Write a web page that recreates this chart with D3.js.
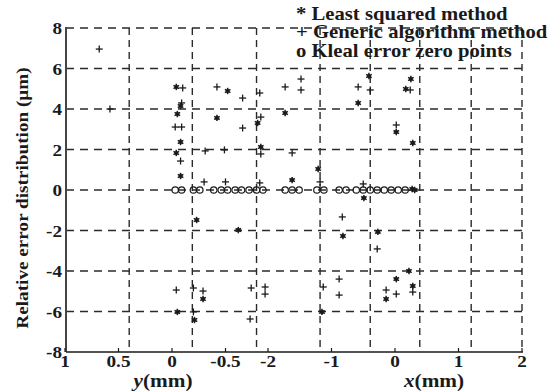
<!DOCTYPE html>
<html><head><meta charset="utf-8">
<script src="https://cdn.jsdelivr.net/npm/d3@7"></script>
<style>html,body{margin:0;padding:0;background:#fff;} svg{display:block;}</style>
</head><body><svg id="c" width="558" height="392"></svg>
<script>
// ---- data ----
const yTicks = [8, 6, 4, 2, 0, -2, -4, -6, -8];
const leftTicks = [1, 0.5, 0, -0.5];          // y(mm) part of the horizontal axis
const leftTickLabels = ["1", "0.5", "0", "-0.5"];
const rightTicks = [-2, -1, 0, 1, 2];          // x(mm) part of the horizontal axis
const rightTickLabels = ["-2", "-1", "0", "1", "2"];
const hGrid = [6, 4, 2, 0, -2, -4, -6];
const leftGrid = [0.40, -0.19, -0.79];
const rightGrid = [-1.18, -0.39, 0.39, 1.2];
const legendItems = ["* Least squared method", "+ Generic algorithm method", "o Kleal error zero points"];

// Least squared method: [position, error]
const lsLeft = [[-0.04,5.09],[-0.08,4.15],[-0.05,3.75],[-0.08,2.37],[-0.04,1.83],[-0.08,0.69],[-0.52,4.89],[-0.42,3.56],[-0.80,3.31],[-0.83,2.12],[-0.23,-1.48],[-0.62,-1.98],[-0.29,-5.38],[-0.21,-6.42],[-0.05,-6.02]];
const lsRight = [[-1.73,3.80],[-1.62,0.49],[-1.21,1.04],[-0.49,-0.40],[-0.41,5.63],[-0.58,4.30],[0.25,5.48],[0.17,4.99],[0.02,2.86],[0.28,2.32],[0.27,0.05],[0.31,0.0],[-0.82,-2.27],[-0.27,-2.07],[-1.15,-6.02],[-0.14,-5.38],[0.02,-4.40],[0.22,-4.00],[0.28,-4.74]];
// Generic algorithm method
const gaLeft = [[0.68,6.96],[0.58,4.00],[-0.10,5.04],[-0.09,4.30],[-0.03,3.11],[-0.09,3.11],[-0.08,1.43],[-0.30,0.40],[-0.50,0.40],[-0.82,0.35],[-0.42,5.09],[-0.66,4.54],[-0.82,4.79],[-0.83,3.60],[-0.66,3.06],[-0.31,1.93],[-0.49,1.98],[-0.83,1.78],[-0.20,-4.84],[-0.29,-4.99],[-0.20,-6.02],[-0.74,-4.84],[-0.87,-4.79],[-0.87,-5.14],[-0.73,-6.37],[-0.04,-4.94]];
const gaRight = [[-1.73,5.09],[-1.48,5.48],[-1.48,4.94],[-1.62,1.83],[-1.18,0.40],[-0.50,0.30],[-0.58,5.09],[-0.39,4.94],[0.24,4.94],[0.02,3.21],[-0.83,-1.33],[-0.28,-2.91],[-0.88,-4.40],[-1.13,-4.79],[-0.88,-5.19],[-0.14,-4.94],[0.02,-5.14],[0.28,-5.04]];
// Ideal error zero points (error = 0)
const zeroLeft = [-0.03,-0.09,-0.20,-0.26,-0.39,-0.46,-0.52,-0.59,-0.65,-0.72,-0.79,-0.85];
const zeroRight = [-1.73,-1.62,-1.51,-1.23,-1.12,-0.88,-0.77,-0.61,-0.50,-0.39,-0.28,-0.17,-0.06,0.05,0.16];

// ---- layout ----
const svg = d3.select("#c");
svg.append("rect").attr("width", 558).attr("height", 392).attr("fill", "#fff");
const X0 = 66, X1 = 522, Y0 = 28, Y1 = 352;
const yv = d3.scaleLinear().domain([-8, 8]).range([Y1, Y0]);
const yLeft = d3.scaleLinear().domain([1, -0.5]).range([65, 225.5]);
const xRight = d3.scaleLinear().domain([-2, 2]).range([268, 522]);
const INK = "#1a1a1a";
const FONT = "'Liberation Serif', 'Times New Roman', serif";
const SX = 1.13;

const grid = svg.append("g").attr("stroke", "#2a2a2a").attr("stroke-width", 1.4).attr("fill", "none");
grid.selectAll("line.h").data(hGrid).join("line")
  .attr("x1", X0).attr("x2", X1).attr("y1", d => yv(d)).attr("y2", d => yv(d))
  .attr("stroke-dasharray", "8,6");
grid.append("line").attr("x1", X0).attr("x2", X1).attr("y1", yv(8)).attr("y2", yv(8)).attr("stroke-dasharray", "8,6");
const vpos = leftGrid.map(d => yLeft(d)).concat(rightGrid.map(d => xRight(d)), [xRight(2)]);
grid.selectAll("line.v").data(vpos).join("line")
  .attr("x1", d => d).attr("x2", d => d).attr("y1", Y0).attr("y2", Y1)
  .attr("stroke-dasharray", "7,5");

// solid axes
svg.append("line").attr("x1", X0).attr("x2", X0).attr("y1", Y0 - 1).attr("y2", Y1)
  .attr("stroke", "#444").attr("stroke-width", 2);
svg.append("line").attr("x1", X0).attr("x2", X1 + 1).attr("y1", Y1).attr("y2", Y1)
  .attr("stroke", INK).attr("stroke-width", 1.6);

// bottom ticks
const tickPos = leftTicks.map(d => yLeft(d)).concat(rightTicks.map(d => xRight(d)));
svg.selectAll("line.bt").data(tickPos).join("line")
  .attr("x1", d => d).attr("x2", d => d).attr("y1", Y1).attr("y2", Y1 - 4)
  .attr("stroke", INK).attr("stroke-width", 1.2);

function label(str, x, y, opt = {}) {
  const t = svg.append("text")
    .attr("transform", `translate(${x},${y})${opt.rot ? " rotate(-90)" : ""} scale(${opt.sx || SX},1)`)
    .attr("text-anchor", opt.anchor || "middle")
    .attr("font-family", FONT).attr("font-size", opt.size || 17)
    .attr("font-weight", opt.weight || "bold").attr("fill", INK);
  if (opt.html) t.html(str); else t.text(str);
  return t;
}

// y tick labels
yTicks.forEach(v => label(String(v), 62, yv(v) + 6, { anchor: "end", size: 17 }));
// bottom tick labels
leftTicks.forEach((v, i) => label(leftTickLabels[i], yLeft(v), 367, { size: 16, sx: 1.2 }));
rightTicks.forEach((v, i) => label(rightTickLabels[i], xRight(v), 367, { size: 16, sx: 1.2 }));

// axis titles
label('<tspan font-style="italic">y</tspan>(mm)', 163, 387, { size: 18, sx: 1.18, html: true });
label('<tspan font-style="italic">x</tspan>(mm)', 434, 387, { size: 18, sx: 1.18, html: true });
label("Relative error distribution (\u03bcm)", 28, 198, { rot: true, size: 17 });

// legend
legendItems.forEach((s, i) => label(s, 296, 19.5 + i * 18.8, { anchor: "start", size: 18, sx: 1.15 }));

// ---- marks ----
const marks = svg.append("g");
function drawZero(px) {
  marks.append("circle").attr("cx", px).attr("cy", yv(0)).attr("r", 3.2)
    .attr("fill", "none").attr("stroke", INK).attr("stroke-width", 1.2);
}
function drawPlus(px, py) {
  const g = marks.append("g").attr("stroke", INK).attr("stroke-width", 1.3);
  g.append("line").attr("x1", px - 3.5).attr("x2", px + 3.5).attr("y1", py).attr("y2", py);
  g.append("line").attr("x1", px).attr("x2", px).attr("y1", py - 3.5).attr("y2", py + 3.5);
}
function drawStar(px, py) {
  const g = marks.append("g").attr("stroke", INK).attr("stroke-width", 1.5);
  [0, 60, 120].forEach(a => {
    const r = 3.2, c = Math.cos(a * Math.PI / 180) * r, s = Math.sin(a * Math.PI / 180) * r;
    g.append("line").attr("x1", px - s).attr("x2", px + s).attr("y1", py - c).attr("y2", py + c);
  });
  marks.append("circle").attr("cx", px).attr("cy", py).attr("r", 2).attr("fill", INK);
}
zeroLeft.forEach(d => drawZero(yLeft(d)));
zeroRight.forEach(d => drawZero(xRight(d)));
gaLeft.forEach(d => drawPlus(yLeft(d[0]), yv(d[1])));
gaRight.forEach(d => drawPlus(xRight(d[0]), yv(d[1])));
lsLeft.forEach(d => drawStar(yLeft(d[0]), yv(d[1])));
lsRight.forEach(d => drawStar(xRight(d[0]), yv(d[1])));
</script>
</body></html>
